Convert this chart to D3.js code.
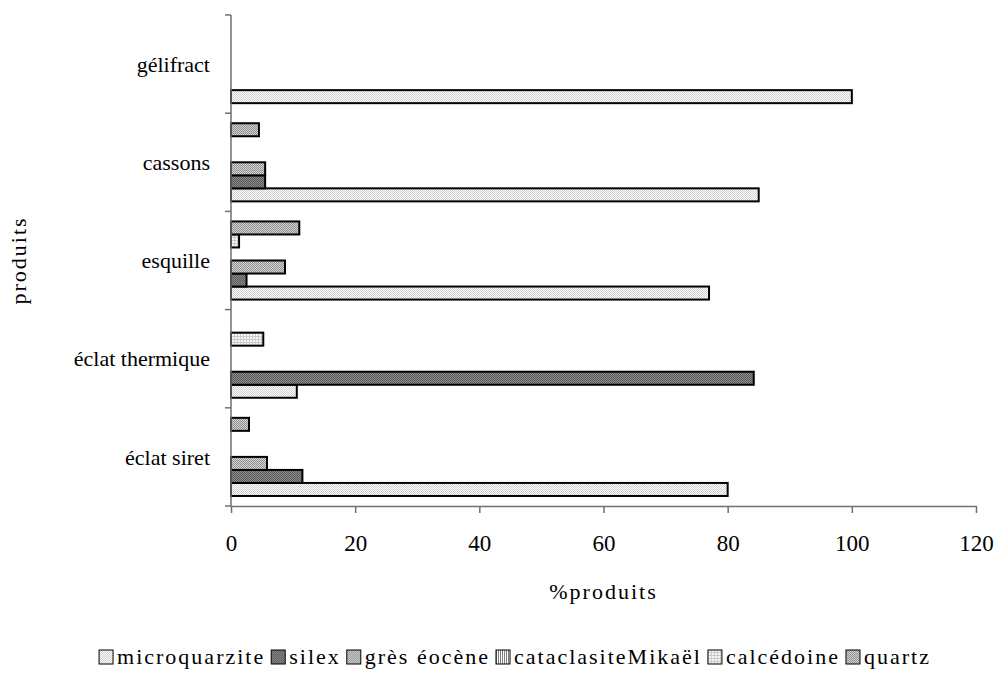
<!DOCTYPE html>
<html>
<head>
<meta charset="utf-8">
<script src="https://cdn.jsdelivr.net/npm/d3@7"></script>
<style>
    body { margin: 0; background: #fff; }
</style>
</head>
<body>
<div id="chart"></div>
<script>
// Categories (bottom to top as drawn) and series (first series drawn at the bottom of each group)
const categories = ["éclat siret", "éclat thermique", "esquille", "cassons", "gélifract"];
const seriesNames = ["microquarzite", "silex", "grès éocène", "cataclasiteMikaël", "calcédoine", "quartz"];

// % produits per series, one value per category (null = no bar)
const microquarzite     = [80, 10.6, 77, 85, 100];
const silex             = [11.5, 84.2, 2.5, 5.5, null];
const gresEocene        = [5.8, null, 8.7, 5.5, null];
const cataclasiteMikael = [null, null, null, null, null];
const calcedoine        = [null, 5.2, 1.3, null, null];
const quartz            = [2.9, null, 11, 4.5, null];

const xTicks = [0, 20, 40, 60, 80, 100, 120];

const seriesValues = [microquarzite, silex, gresEocene, cataclasiteMikael, calcedoine, quartz];

const fontName = '"Liberation Serif"';
const svgWidth = 999;
const svgHeight = 675;
const plot = { left: 231, right: 976, top: 15, bottom: 506 };

const svg = d3.select("#chart")
    .append("svg")
    .attr("width", svgWidth)
    .attr("height", svgHeight);

// Fill patterns that imitate the old Excel hatches
const defs = svg.append("defs");
function dotPattern(id, bg, dot, size) {
    const p = defs.append("pattern")
        .attr("id", id)
        .attr("patternUnits", "userSpaceOnUse")
        .attr("width", size).attr("height", size);
    p.append("rect").attr("width", size).attr("height", size).attr("fill", bg);
    p.append("rect").attr("width", 1).attr("height", 1).attr("fill", dot);
    p.append("rect").attr("x", size / 2).attr("y", size / 2).attr("width", 1).attr("height", 1).attr("fill", dot);
}
dotPattern("p-micro", "#ffffff", "#cfcfcf", 2);
dotPattern("p-silex", "#8a8a8a", "#5a5a5a", 2);
dotPattern("p-gres", "#d6d6d6", "#8e8e8e", 2);
dotPattern("p-quartz", "#d2d2d2", "#909090", 2);

const vl = defs.append("pattern")
    .attr("id", "p-catac")
    .attr("patternUnits", "userSpaceOnUse")
    .attr("width", 2).attr("height", 2);
vl.append("rect").attr("width", 2).attr("height", 2).attr("fill", "#ffffff");
vl.append("rect").attr("width", 1).attr("height", 2).attr("fill", "#808080");

const grid = defs.append("pattern")
    .attr("id", "p-calc")
    .attr("patternUnits", "userSpaceOnUse")
    .attr("width", 3).attr("height", 3);
grid.append("rect").attr("width", 3).attr("height", 3).attr("fill", "#f6f6f6");
grid.append("rect").attr("width", 1).attr("height", 3).attr("fill", "#cacaca");
grid.append("rect").attr("width", 3).attr("height", 1).attr("fill", "#cacaca");

const fills = ["url(#p-micro)", "url(#p-silex)", "url(#p-gres)", "url(#p-catac)", "url(#p-calc)", "url(#p-quartz)"];

// Scales
const x = d3.scaleLinear()
    .domain([0, 120])
    .range([plot.left, plot.right]);

const y0 = d3.scaleBand()
    .domain(categories)
    .range([plot.bottom, plot.top])
    .padding(0);

const y1 = d3.scaleBand()
    .domain(seriesNames.slice().reverse())
    .range([0, y0.bandwidth()])
    .paddingInner(0)
    .paddingOuter(0.77);

// Bars
const barData = [];
seriesValues.forEach((vals, si) => {
    vals.forEach((v, ci) => {
        if (v !== null && v > 0) barData.push({ s: si, c: ci, v: v });
    });
});

svg.append("g")
    .selectAll("rect")
    .data(barData)
    .enter()
    .append("rect")
    .attr("x", x(0))
    .attr("y", d => y0(categories[d.c]) + y1(seriesNames[d.s]))
    .attr("width", d => x(d.v) - x(0))
    .attr("height", y1.bandwidth())
    .attr("fill", d => fills[d.s])
    .attr("stroke", "#000")
    .attr("stroke-width", 2);

// X axis
const xAxis = svg.append("g")
    .attr("transform", `translate(0,${plot.bottom})`)
    .call(d3.axisBottom(x).tickValues(xTicks).tickSize(7).tickPadding(22).tickSizeOuter(0));
xAxis.select(".domain").attr("stroke", "#707070").attr("stroke-width", 1.5);
xAxis.selectAll(".tick line").attr("stroke", "#707070").attr("stroke-width", 1.5);
xAxis.selectAll("text")
    .style("font-family", fontName)
    .style("font-size", "23px")
    .attr("fill", "#000");

// Y axis: line with tick marks at category boundaries
const yAxis = svg.append("g");
yAxis.append("line")
    .attr("x1", plot.left).attr("x2", plot.left)
    .attr("y1", plot.top).attr("y2", plot.bottom)
    .attr("stroke", "#707070").attr("stroke-width", 1.5);
const boundaries = categories.map(c => y0(c)).concat([plot.bottom]);
yAxis.selectAll(".bt")
    .data(boundaries)
    .enter()
    .append("line")
    .attr("x1", plot.left - 6).attr("x2", plot.left)
    .attr("y1", d => d).attr("y2", d => d)
    .attr("stroke", "#707070").attr("stroke-width", 1.5);

yAxis.selectAll(".cl")
    .data(categories)
    .enter()
    .append("text")
    .attr("x", 210)
    .attr("y", d => y0(d) + y0.bandwidth() / 2)
    .attr("dy", "0.35em")
    .attr("text-anchor", "end")
    .style("font-family", fontName)
    .style("font-size", "22px")
    .text(d => d);

// Axis titles
svg.append("text")
    .attr("x", (plot.left + plot.right) / 2)
    .attr("y", 599)
    .attr("text-anchor", "middle")
    .style("font-family", fontName)
    .style("font-size", "22px")
    .style("letter-spacing", "2px")
    .text("%produits");

svg.append("text")
    .attr("transform", `translate(26,${(plot.top + plot.bottom) / 2}) rotate(-90)`)
    .attr("text-anchor", "middle")
    .style("font-family", fontName)
    .style("font-size", "22px")
    .style("letter-spacing", "2px")
    .text("produits");

// Legend
const legend = svg.append("g");
let lx = 0;
seriesNames.forEach((name, i) => {
    const g = legend.append("g");
    g.append("rect")
        .attr("x", 0).attr("y", -14)
        .attr("width", 14).attr("height", 14)
        .attr("fill", fills[i])
        .attr("stroke", "#000").attr("stroke-width", 1);
    const t = g.append("text")
        .attr("x", 18).attr("y", 0)
        .style("font-family", fontName)
        .style("font-size", "22px")
        .style("letter-spacing", "2px")
        .text(name);
    const w = 18 + t.node().getComputedTextLength();
    g.attr("transform", `translate(${lx},0)`);
    lx += w + 6;
});
const legendWidth = lx - 6;
legend.attr("transform", `translate(${515 - legendWidth / 2},664)`);
</script>
</body>
</html>
